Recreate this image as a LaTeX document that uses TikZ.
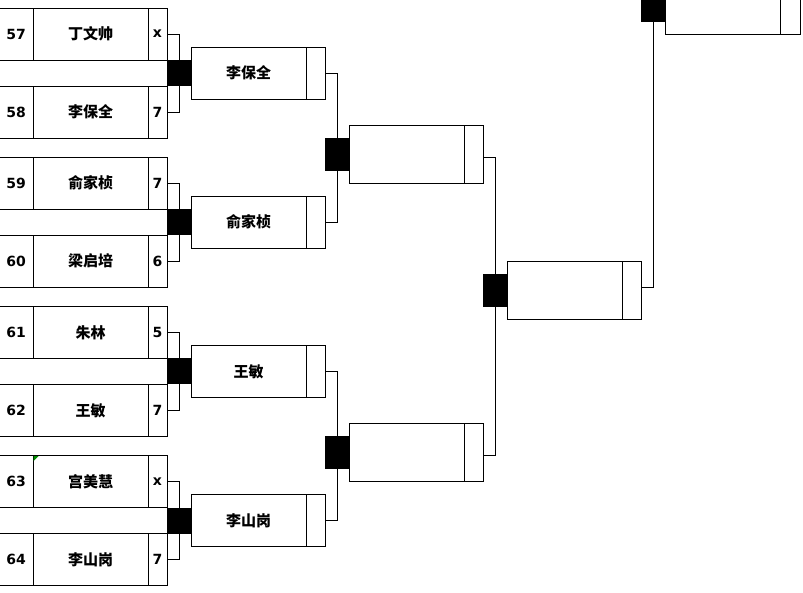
\documentclass[tikz,border=0pt]{standalone}
\usepackage{fontspec}
\usepackage{tikz}
\usetikzlibrary{positioning}
\newfontfamily\cjkfont{Noto Sans CJK SC}
\newfontfamily\seedfont{DejaVu Sans}
\tikzset{
  cell/.style={rectangle,draw,line width=1pt,inner sep=0pt,outer sep=0pt,
    anchor=north west,minimum height=52pt},
  seed/.style={cell,minimum width=34pt,font=\seedfont\bfseries\fontsize{14}{15}\selectfont},
  player/.style={cell,minimum width=115pt,font=\cjkfont\bfseries\fontsize{15}{16}\selectfont},
  score/.style={cell,minimum width=19pt,font=\seedfont\bfseries\fontsize{14}{15}\selectfont},
  tall/.style={minimum height=58pt},
  tag/.style={rectangle,fill=black,inner sep=0pt,outer sep=0pt,
    anchor=north west,minimum width=24pt},
  link/.style={line width=1pt}
}
\begin{document}
\begin{tikzpicture}[x=1pt,y=-1pt]
  \useasboundingbox (0,0) rectangle (803,592);
  \clip (0,0) rectangle (803,592);
  \def\pa{8}
  \def\pb{157.2}
  \def\pc{306.4}
  \def\pd{455.6}
  % first round
  \node[seed] (n57) at (-1,\pa) {57};
  \node[player] (p57) at (33,\pa) {丁文帅};
  \node[score] (s57) at (148,\pa) {x};
  \node[seed] (n58) at (-1,\pa+78) {58};
  \node[player] (p58) at (33,\pa+78) {李保全};
  \node[score] (s58) at (148,\pa+78) {7};
  \node[seed] (n59) at (-1,\pb) {59};
  \node[player] (p59) at (33,\pb) {俞家桢};
  \node[score] (s59) at (148,\pb) {7};
  \node[seed] (n60) at (-1,\pb+78) {60};
  \node[player] (p60) at (33,\pb+78) {梁启培};
  \node[score] (s60) at (148,\pb+78) {6};
  \node[seed] (n61) at (-1,\pc) {61};
  \node[player] (p61) at (33,\pc) {朱林};
  \node[score] (s61) at (148,\pc) {5};
  \node[seed] (n62) at (-1,\pc+78) {62};
  \node[player] (p62) at (33,\pc+78) {王敏};
  \node[score] (s62) at (148,\pc+78) {7};
  \node[seed] (n63) at (-1,\pd) {63};
  \node[player] (p63) at (33,\pd) {宫美慧};
  \node[score] (s63) at (148,\pd) {x};
  \node[seed] (n64) at (-1,\pd+78) {64};
  \node[player] (p64) at (33,\pd+78) {李山岗};
  \node[score] (s64) at (148,\pd+78) {7};
  \fill[green!55!black] (33.5,\pd+0.5) -- (38.5,\pd+0.5) -- (33.5,\pd+5.5) -- cycle;
  % band between the two rows of each match
  \draw[line width=1pt] (-1,\pa+52) -- (167,\pa+52) (-1,\pa+78) -- (167,\pa+78);
  \node[tag,minimum height=26pt] (ta) at (167,\pa+52) {};
  \node[tag,minimum height=26pt] (tb) at (167,\pb+52) {};
  \node[tag,minimum height=26pt] (tc) at (167,\pc+52) {};
  \node[tag,minimum height=26pt] (td) at (167,\pd+52) {};
  \draw[link] (s57.east) -| (ta.north);
  \draw[link] (s58.east) -| (ta.south);
  \draw[link] (s59.east) -| (tb.north);
  \draw[link] (s60.east) -| (tb.south);
  \draw[link] (s61.east) -| (tc.north);
  \draw[link] (s62.east) -| (tc.south);
  \draw[link] (s63.east) -| (td.north);
  \draw[link] (s64.east) -| (td.south);
  % second round
  \node[player] (pa) at (191,\pa+39) {李保全};
  \node[score] (sa) at (306,\pa+39) {};
  \node[player] (pb) at (191,\pb+39) {俞家桢};
  \node[score] (sb) at (306,\pb+39) {};
  \node[player] (pc) at (191,\pc+39) {王敏};
  \node[score] (sc) at (306,\pc+39) {};
  \node[player] (pd) at (191,\pd+39) {李山岗};
  \node[score] (sd) at (306,\pd+39) {};
  \node[tag,minimum height=33pt] (ua) at (325,138) {};
  \node[tag,minimum height=33pt] (ub) at (325,436) {};
  \draw[link] (sa.east) -| (ua.north);
  \draw[link] (sb.east) -| (ua.south);
  \draw[link] (sc.east) -| (ub.north);
  \draw[link] (sd.east) -| (ub.south);
  % semi-final
  \node[player,tall] (qa) at (349,125) {};
  \node[score,tall] (ra) at (464,125) {};
  \node[player,tall] (qb) at (349,423) {};
  \node[score,tall] (rb) at (464,423) {};
  \node[tag,minimum height=33pt] (va) at (483,274) {};
  \draw[link] ([yshift=-3pt]ra.east) -| (va.north);
  \draw[link] ([yshift=-3pt]rb.east) -| (va.south);
  % final
  \node[player,tall] (qc) at (507,261) {};
  \node[score,tall] (rc) at (622,261) {};
  \node[tag,minimum height=33pt] (vb) at (641,-11) {};
  \node[player,tall] (qd) at (665,-24) {};
  \node[score,tall,minimum width=20pt] (rd) at (780,-24) {};
  \draw[link] ([yshift=3pt]rc.east) -| (vb.south);
\end{tikzpicture}
\end{document}
